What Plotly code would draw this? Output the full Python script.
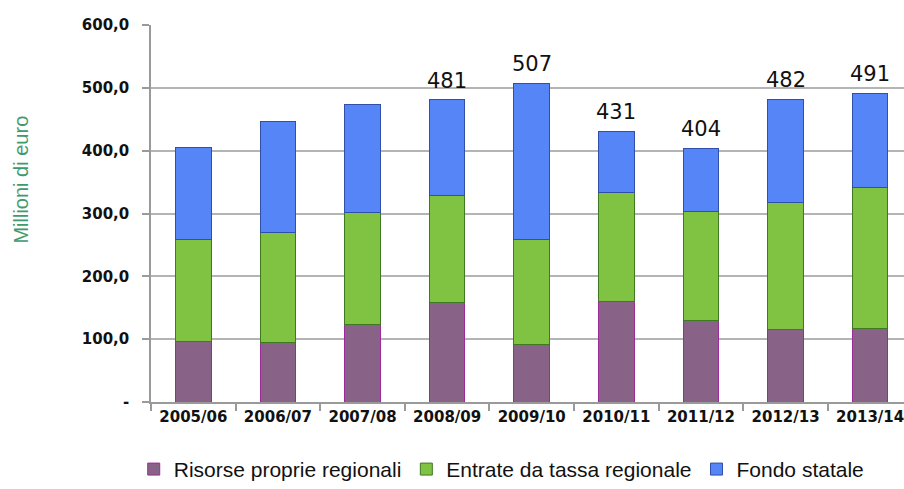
import plotly.graph_objects as go

categories = ["2005/06", "2006/07", "2007/08", "2008/09", "2009/10",
              "2010/11", "2011/12", "2012/13", "2013/14"]
risorse_proprie = [97, 94, 123, 158, 92, 160, 130, 116, 117]
entrate_tassa = [161, 175, 179, 171, 167, 173, 173, 202, 225]
fondo_statale = [147, 178, 171, 152, 248, 98, 101, 164, 149]
total_labels = [None, None, None, 481, 507, 431, 404, 482, 491]

y_tickvals = [0, 100, 200, 300, 400, 500, 600]
y_ticktext = ["-", "100,0", "200,0", "300,0", "400,0", "500,0", "600,0"]
y_title = "Millioni di euro"

series = [
    ("Risorse proprie regionali", risorse_proprie, "#896387", "#9b2a9b"),
    ("Entrate da tassa regionale", entrate_tassa, "#80c342", "#3f7a22"),
    ("Fondo statale", fondo_statale, "#5585f6", "#2f4fa8"),
]

fig = go.Figure()
for name, vals, col, edge in series:
    fig.add_trace(go.Bar(
        x=categories, y=vals, name=name, width=0.42,
        marker=dict(color=col, line=dict(color=edge, width=1)),
    ))

totals = [a + b + c for a, b, c in zip(risorse_proprie, entrate_tassa, fondo_statale)]
for cat, tot, lab in zip(categories, totals, total_labels):
    if lab is None:
        continue
    fig.add_annotation(
        x=cat, y=tot, text=str(lab), showarrow=False,
        yanchor="middle", yshift=19,
        font=dict(family="DejaVu Sans", size=21, color="#111111"),
    )

fig.add_annotation(
    xref="paper", yref="paper", x=0, y=0.59, xshift=-130,
    text=y_title, textangle=-90, showarrow=False,
    xanchor="center", yanchor="middle",
    font=dict(family="Liberation Sans", size=20, color="#3f9a6e"),
)

fig.update_layout(
    width=904, height=489,
    margin=dict(l=151, r=0, t=25, b=87),
    barmode="stack",
    plot_bgcolor="white", paper_bgcolor="white",
    showlegend=True,
    legend=dict(
        orientation="h", xref="container", yref="container",
        x=0.555, xanchor="center", y=0.04, yanchor="middle",
        font=dict(family="Liberation Sans", size=21, color="#111111"),
        itemwidth=30, traceorder="normal",
    ),
    font=dict(family="DejaVu Sans", color="#111111"),
)

fig.update_xaxes(
    type="category", range=[-0.5, 8.4],
    showline=True, linecolor="#9a9a9a", linewidth=1.5,
    ticks="outside", tickson="boundaries", ticklen=7, tickcolor="#9a9a9a",
    tickwidth=1.5,
    tickfont=dict(family="DejaVu Sans", size=15, color="#111111", weight="bold"),
    showgrid=False,
)

fig.update_yaxes(
    range=[0, 600], tickvals=y_tickvals, ticktext=y_ticktext,
    showline=True, linecolor="#9a9a9a", linewidth=1.5,
    ticks="outside", ticklen=7, tickcolor="#9a9a9a", tickwidth=1.5,
    ticklabelstandoff=10,
    showgrid=True, gridcolor="#b4b4b4", gridwidth=1.5,
    tickfont=dict(family="DejaVu Sans", size=15, color="#111111", weight="bold"),
    zeroline=False,
)

fig.write_html("out.html")
